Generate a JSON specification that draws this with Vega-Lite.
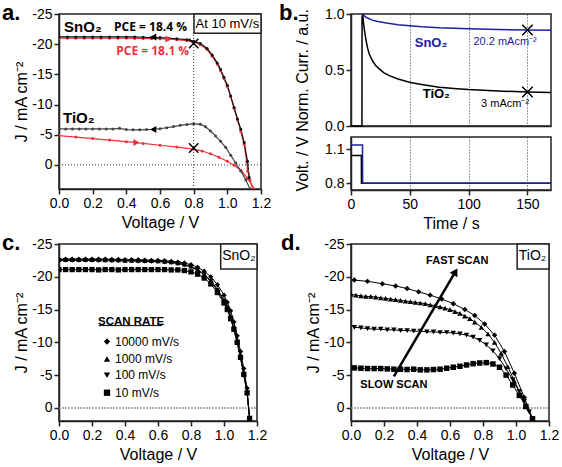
{
"$schema": "https://vega.github.io/schema/vega-lite/v6.json",
"padding": {"left": 1, "top": 1, "right": 0, "bottom": 0},
"background": "white",
"config": {
  "font": "Liberation Sans",
  "view": {"stroke": "#222", "strokeWidth": 1.5},
  "axis": {"domainColor": "#222", "domainWidth": 1.5, "tickColor": "#222", "tickWidth": 1.5, "tickSize": 5, "labelColor": "black", "labelFontSize": 14, "labelFont": "Liberation Sans", "titleFont": "Liberation Sans", "titleFontSize": 16, "titleFontWeight": "normal", "titleColor": "black", "grid": false, "labelPadding": 2, "labelFlush": false, "labelOverlap": false},
  "title": {"font": "Liberation Sans", "fontSize": 22, "fontWeight": "bold", "color": "black", "anchor": "start", "frame": "group", "offset": -4, "baseline": "alphabetic", "dy": 14}
},
"spacing": -1,
"resolve": {"scale": {"shape": "independent", "color": "independent"}, "legend": {"shape": "independent"}},
"vconcat": [
 {"hconcat": [
  {
   "width": 202, "height": 175,
   "title": {"text": "a.", "dx": -57},
   "encoding": {
     "x": {"field": "V", "type": "quantitative", "scale": {"domain": [0, 1.2], "nice": false, "zero": false}, "axis": {"values": [0, 0.2, 0.4, 0.6, 0.8, 1.0, 1.2], "format": ".1f", "title": "Voltage / V"}},
     "y": {"field": "J", "type": "quantitative", "scale": {"domain": [-25, 4], "reverse": true, "nice": false, "zero": false}, "axis": {"values": [-25, -20, -15, -10, -5, 0], "labelExpr": "'' + datum.value", "title": "J / mA cm⁻²", "titlePadding": 2}}
   },
   "layer": [
    {"data": {"values": [{"V": 0.8, "J": -25, "J2": 4}]}, "mark": {"type": "rule", "strokeDash": [1, 2], "color": "#333", "strokeWidth": 1}, "encoding": {"y2": {"field": "J2"}}},
    {"data": {"values": [{"V": 0, "V2": 1.2, "J": 0}]}, "mark": {"type": "rule", "strokeDash": [1, 2], "color": "#333", "strokeWidth": 1}, "encoding": {"x2": {"field": "V2"}}},
    {"data": {"values": [
      {"s": "TiO2 fwd", "V": 0.0, "J": -4.85}, {"s": "TiO2 fwd", "V": 0.1, "J": -4.6}, {"s": "TiO2 fwd", "V": 0.2, "J": -4.35}, {"s": "TiO2 fwd", "V": 0.3, "J": -4.1}, {"s": "TiO2 fwd", "V": 0.4, "J": -3.85}, {"s": "TiO2 fwd", "V": 0.5, "J": -3.55}, {"s": "TiO2 fwd", "V": 0.6, "J": -3.25}, {"s": "TiO2 fwd", "V": 0.7, "J": -2.95}, {"s": "TiO2 fwd", "V": 0.8, "J": -2.6}, {"s": "TiO2 fwd", "V": 0.85, "J": -2.3}, {"s": "TiO2 fwd", "V": 0.9, "J": -1.85}, {"s": "TiO2 fwd", "V": 0.95, "J": -1.25}, {"s": "TiO2 fwd", "V": 1.0, "J": -0.6}, {"s": "TiO2 fwd", "V": 1.04, "J": 0.05}, {"s": "TiO2 fwd", "V": 1.08, "J": 0.9}, {"s": "TiO2 fwd", "V": 1.12, "J": 2.2}, {"s": "TiO2 fwd", "V": 1.16, "J": 4.0},
      {"s": "TiO2 rev", "V": 0.0, "J": -5.95}, {"s": "TiO2 rev", "V": 0.04, "J": -5.95}, {"s": "TiO2 rev", "V": 0.08, "J": -5.95}, {"s": "TiO2 rev", "V": 0.12, "J": -5.95}, {"s": "TiO2 rev", "V": 0.16, "J": -5.95}, {"s": "TiO2 rev", "V": 0.2, "J": -5.95}, {"s": "TiO2 rev", "V": 0.24, "J": -5.95}, {"s": "TiO2 rev", "V": 0.28, "J": -5.95}, {"s": "TiO2 rev", "V": 0.32, "J": -5.95}, {"s": "TiO2 rev", "V": 0.36, "J": -6.05}, {"s": "TiO2 rev", "V": 0.4, "J": -5.85}, {"s": "TiO2 rev", "V": 0.44, "J": -5.8}, {"s": "TiO2 rev", "V": 0.48, "J": -5.8}, {"s": "TiO2 rev", "V": 0.52, "J": -5.85}, {"s": "TiO2 rev", "V": 0.56, "J": -5.9}, {"s": "TiO2 rev", "V": 0.6, "J": -6.0}, {"s": "TiO2 rev", "V": 0.64, "J": -6.15}, {"s": "TiO2 rev", "V": 0.68, "J": -6.35}, {"s": "TiO2 rev", "V": 0.72, "J": -6.55}, {"s": "TiO2 rev", "V": 0.76, "J": -6.7}, {"s": "TiO2 rev", "V": 0.8, "J": -6.8}, {"s": "TiO2 rev", "V": 0.84, "J": -6.75}, {"s": "TiO2 rev", "V": 0.87, "J": -6.3}, {"s": "TiO2 rev", "V": 0.9, "J": -5.6}, {"s": "TiO2 rev", "V": 0.93, "J": -4.8}, {"s": "TiO2 rev", "V": 0.96, "J": -3.9}, {"s": "TiO2 rev", "V": 0.99, "J": -2.9}, {"s": "TiO2 rev", "V": 1.02, "J": -1.6}, {"s": "TiO2 rev", "V": 1.05, "J": -0.3}, {"s": "TiO2 rev", "V": 1.08, "J": 1.0}, {"s": "TiO2 rev", "V": 1.11, "J": 2.5}, {"s": "TiO2 rev", "V": 1.135, "J": 4.0},
      {"s": "SnO2 fwd", "V": 0.0, "J": -21.0}, {"s": "SnO2 fwd", "V": 0.05, "J": -21.0}, {"s": "SnO2 fwd", "V": 0.1, "J": -21.0}, {"s": "SnO2 fwd", "V": 0.15, "J": -21.0}, {"s": "SnO2 fwd", "V": 0.2, "J": -21.0}, {"s": "SnO2 fwd", "V": 0.25, "J": -21.0}, {"s": "SnO2 fwd", "V": 0.3, "J": -21.0}, {"s": "SnO2 fwd", "V": 0.35, "J": -21.0}, {"s": "SnO2 fwd", "V": 0.4, "J": -21.0}, {"s": "SnO2 fwd", "V": 0.45, "J": -20.95}, {"s": "SnO2 fwd", "V": 0.5, "J": -20.95}, {"s": "SnO2 fwd", "V": 0.55, "J": -20.9}, {"s": "SnO2 fwd", "V": 0.6, "J": -20.9}, {"s": "SnO2 fwd", "V": 0.65, "J": -20.85}, {"s": "SnO2 fwd", "V": 0.7, "J": -20.75}, {"s": "SnO2 fwd", "V": 0.76, "J": -20.6}, {"s": "SnO2 fwd", "V": 0.8, "J": -20.35}, {"s": "SnO2 fwd", "V": 0.84, "J": -19.9}, {"s": "SnO2 fwd", "V": 0.88, "J": -19.1}, {"s": "SnO2 fwd", "V": 0.91, "J": -18.0}, {"s": "SnO2 fwd", "V": 0.94, "J": -16.7}, {"s": "SnO2 fwd", "V": 0.96, "J": -15.6}, {"s": "SnO2 fwd", "V": 0.98, "J": -14.3}, {"s": "SnO2 fwd", "V": 1.0, "J": -13.0}, {"s": "SnO2 fwd", "V": 1.02, "J": -11.3}, {"s": "SnO2 fwd", "V": 1.04, "J": -9.4}, {"s": "SnO2 fwd", "V": 1.06, "J": -7.5}, {"s": "SnO2 fwd", "V": 1.08, "J": -5.5}, {"s": "SnO2 fwd", "V": 1.1, "J": -3.4}, {"s": "SnO2 fwd", "V": 1.115, "J": -0.5}, {"s": "SnO2 fwd", "V": 1.12, "J": 1.0}, {"s": "SnO2 fwd", "V": 1.135, "J": 2.5}, {"s": "SnO2 fwd", "V": 1.15, "J": 4.0},
      {"s": "SnO2 rev", "V": 0.0, "J": -21.2}, {"s": "SnO2 rev", "V": 0.05, "J": -21.2}, {"s": "SnO2 rev", "V": 0.1, "J": -21.2}, {"s": "SnO2 rev", "V": 0.15, "J": -21.2}, {"s": "SnO2 rev", "V": 0.2, "J": -21.2}, {"s": "SnO2 rev", "V": 0.25, "J": -21.2}, {"s": "SnO2 rev", "V": 0.3, "J": -21.2}, {"s": "SnO2 rev", "V": 0.35, "J": -21.2}, {"s": "SnO2 rev", "V": 0.4, "J": -21.2}, {"s": "SnO2 rev", "V": 0.45, "J": -21.2}, {"s": "SnO2 rev", "V": 0.5, "J": -21.15}, {"s": "SnO2 rev", "V": 0.55, "J": -21.1}, {"s": "SnO2 rev", "V": 0.6, "J": -21.1}, {"s": "SnO2 rev", "V": 0.65, "J": -21.0}, {"s": "SnO2 rev", "V": 0.7, "J": -20.9}, {"s": "SnO2 rev", "V": 0.76, "J": -20.75}, {"s": "SnO2 rev", "V": 0.8, "J": -20.5}, {"s": "SnO2 rev", "V": 0.84, "J": -20.1}, {"s": "SnO2 rev", "V": 0.88, "J": -19.3}, {"s": "SnO2 rev", "V": 0.91, "J": -18.2}, {"s": "SnO2 rev", "V": 0.94, "J": -16.9}, {"s": "SnO2 rev", "V": 0.96, "J": -15.8}, {"s": "SnO2 rev", "V": 0.98, "J": -14.5}, {"s": "SnO2 rev", "V": 1.0, "J": -13.2}, {"s": "SnO2 rev", "V": 1.02, "J": -11.4}, {"s": "SnO2 rev", "V": 1.04, "J": -9.5}, {"s": "SnO2 rev", "V": 1.06, "J": -7.6}, {"s": "SnO2 rev", "V": 1.08, "J": -5.9}, {"s": "SnO2 rev", "V": 1.1, "J": -3.7}, {"s": "SnO2 rev", "V": 1.12, "J": -0.6}, {"s": "SnO2 rev", "V": 1.13, "J": 2.1}
     ]},
     "mark": {"type": "line", "strokeWidth": 1.2, "clip": true, "point": {"filled": true, "size": 9, "opacity": 1}},
     "encoding": {"color": {"field": "s", "type": "nominal", "scale": {"domain": ["TiO2 fwd", "TiO2 rev", "SnO2 fwd", "SnO2 rev"], "range": ["#ef3038", "#444444", "#ef3038", "#111111"]}, "legend": null}}
    },
    {"data": {"values": [{"V": 0.8, "J": -20.1}, {"V": 0.8, "J": -2.8}]}, "mark": {"type": "point", "shape": "M-1,-1L1,1M-1,1L1,-1", "size": 90, "filled": false, "strokeWidth": 1.5, "color": "black", "opacity": 1}},
    {"data": {"values": [{"V": 0.56, "J": -21.2}, {"V": 0.56, "J": -5.85}]}, "mark": {"type": "point", "shape": "triangle-left", "size": 50, "filled": true, "color": "black", "opacity": 1}},
    {"data": {"values": [{"V": 0.65, "J": -20.85}, {"V": 0.46, "J": -3.7}]}, "mark": {"type": "point", "shape": "triangle-right", "size": 50, "filled": true, "color": "#ef3038", "opacity": 1}},
    {"data": {"values": [{"V": 0.802, "V2": 1.2, "J": -25, "J2": -21.8}]}, "mark": {"type": "rect", "fill": "white", "stroke": "#222", "strokeWidth": 1.5}, "encoding": {"x2": {"field": "V2"}, "y2": {"field": "J2"}}},
    {"data": {"values": [{"V": 1.0, "J": -23.4, "t": "At 10 mV/s"}]}, "mark": {"type": "text", "fontSize": 13, "align": "center", "baseline": "middle", "color": "black"}, "encoding": {"text": {"field": "t"}}},
    {"data": {"values": [{"V": 0.03, "J": -22.9, "t": "SnO₂"}, {"V": 0.024, "J": -7.8, "t": "TiO₂"}]}, "mark": {"type": "text", "fontSize": 15, "fontWeight": "bold", "align": "left", "baseline": "middle", "color": "black"}, "encoding": {"text": {"field": "t"}}},
    {"data": {"values": [{"V": 0.327, "J": -22.9, "t": "PCE = 18.4 %"}]}, "mark": {"type": "text", "font": "Open Sans", "fontSize": 12, "fontWeight": "bold", "align": "left", "baseline": "middle", "color": "black"}, "encoding": {"text": {"field": "t"}}},
    {"data": {"values": [{"V": 0.34, "J": -18.8, "t": "PCE = 18.1 %"}]}, "mark": {"type": "text", "font": "Open Sans", "fontSize": 12, "fontWeight": "bold", "align": "left", "baseline": "middle", "color": "#ef3038"}, "encoding": {"text": {"field": "t"}}}
   ]
  },
  {
   "spacing": 11,
   "bounds": "flush",
   "vconcat": [
    {
     "width": 200, "height": 112,
     "title": {"text": "b.", "dx": -72},
     "encoding": {
       "x": {"field": "t", "type": "quantitative", "scale": {"domain": [0, 170], "nice": false, "zero": false}, "axis": {"values": [0, 50, 100, 150], "labels": false, "ticks": false, "title": null, "grid": true, "gridDash": [1, 2], "gridColor": "#333", "gridWidth": 1}},
       "y": {"field": "v", "type": "quantitative", "scale": {"domain": [0, 1], "nice": false, "zero": false}, "axis": {"values": [0, 0.5, 1], "format": ".1f", "title": "Norm. Curr. / a.u.", "titlePadding": 14}}
     },
     "layer": [
      {"data": {"values": [
        {"i": 0, "t": 0, "v": 0}, {"i": 1, "t": 9.3, "v": 0}, {"i": 2, "t": 9.4, "v": 0.97}, {"i": 3, "t": 9.9, "v": 1.0}, {"i": 4, "t": 10.5, "v": 0.93}, {"i": 5, "t": 11.5, "v": 0.85}, {"i": 6, "t": 12.7, "v": 0.77}, {"i": 7, "t": 14, "v": 0.7}, {"i": 8, "t": 15.6, "v": 0.64}, {"i": 9, "t": 18.4, "v": 0.58}, {"i": 10, "t": 21, "v": 0.54}, {"i": 11, "t": 24, "v": 0.51}, {"i": 12, "t": 28, "v": 0.475}, {"i": 13, "t": 32.6, "v": 0.45}, {"i": 14, "t": 40, "v": 0.42}, {"i": 15, "t": 49.6, "v": 0.39}, {"i": 16, "t": 60, "v": 0.37}, {"i": 17, "t": 75, "v": 0.345}, {"i": 18, "t": 90, "v": 0.333}, {"i": 19, "t": 100, "v": 0.325}, {"i": 20, "t": 125, "v": 0.313}, {"i": 21, "t": 150, "v": 0.303}, {"i": 22, "t": 170, "v": 0.298}
      ]}, "mark": {"type": "line", "color": "black", "strokeWidth": 1.5}, "encoding": {"order": {"field": "i", "type": "quantitative"}}},
      {"data": {"values": [
        {"t": 9.9, "v": 1.0}, {"t": 11, "v": 0.985}, {"t": 13, "v": 0.97}, {"t": 15, "v": 0.96}, {"t": 18, "v": 0.945}, {"t": 22, "v": 0.935}, {"t": 30, "v": 0.92}, {"t": 40, "v": 0.905}, {"t": 50, "v": 0.895}, {"t": 60, "v": 0.886}, {"t": 75, "v": 0.877}, {"t": 100, "v": 0.868}, {"t": 125, "v": 0.862}, {"t": 150, "v": 0.857}, {"t": 170, "v": 0.855}
      ]}, "mark": {"type": "line", "color": "#2020a0", "strokeWidth": 1.5}},
      {"data": {"values": [{"t": 150, "v": 0.857}, {"t": 150, "v": 0.303}]}, "mark": {"type": "point", "shape": "M-1,-1L1,1M-1,1L1,-1", "size": 110, "filled": false, "strokeWidth": 1.5, "color": "black", "opacity": 1}},
      {"data": {"values": [{"t": 68, "v": 0.74, "s": "SnO₂"}]}, "mark": {"type": "text", "fontSize": 13, "fontWeight": "bold", "align": "center", "baseline": "middle", "color": "#2020a0"}, "encoding": {"text": {"field": "s"}}},
      {"data": {"values": [{"t": 131, "v": 0.75, "s": "20.2 mAcm⁻²"}]}, "mark": {"type": "text", "fontSize": 11, "align": "center", "baseline": "middle", "color": "#2020a0"}, "encoding": {"text": {"field": "s"}}},
      {"data": {"values": [{"t": 72.5, "v": 0.29, "s": "TiO₂"}]}, "mark": {"type": "text", "fontSize": 13, "fontWeight": "bold", "align": "center", "baseline": "middle", "color": "black"}, "encoding": {"text": {"field": "s"}}},
      {"data": {"values": [{"t": 131, "v": 0.2, "s": "3 mAcm⁻²"}]}, "mark": {"type": "text", "fontSize": 11, "align": "center", "baseline": "middle", "color": "black"}, "encoding": {"text": {"field": "s"}}}
     ]
    },
    {
     "width": 200, "height": 53,
     "encoding": {
       "x": {"field": "t", "type": "quantitative", "scale": {"domain": [0, 170], "nice": false, "zero": false}, "axis": {"values": [0, 50, 100, 150], "title": "Time / s", "grid": true, "gridDash": [1, 2], "gridColor": "#333", "gridWidth": 1}},
       "y": {"field": "v", "type": "quantitative", "scale": {"domain": [0.74, 1.21], "nice": false, "zero": false}, "axis": {"values": [0.8, 1.1], "format": ".1f", "title": "Volt. / V", "titlePadding": 14}}
     },
     "layer": [
      {"data": {"values": [{"i": 0, "t": 0, "v": 1.045}, {"i": 1, "t": 8.8, "v": 1.045}, {"i": 2, "t": 8.9, "v": 0.8}, {"i": 3, "t": 170, "v": 0.8}]}, "mark": {"type": "line", "color": "black", "strokeWidth": 1.5}, "encoding": {"order": {"field": "i", "type": "quantitative"}}},
      {"data": {"values": [{"i": 0, "t": 0, "v": 1.14}, {"i": 1, "t": 9.8, "v": 1.14}, {"i": 2, "t": 9.9, "v": 0.8}, {"i": 3, "t": 170, "v": 0.8}]}, "mark": {"type": "line", "color": "#2020a0", "strokeWidth": 1.5}, "encoding": {"order": {"field": "i", "type": "quantitative"}}}
     ]
    }
   ]
  }
 ], "spacing": 90, "bounds": "flush"},
 {"hconcat": [
  {
   "width": 198, "height": 177,
   "title": {"text": "c.", "dx": -57},
   "encoding": {
     "x": {"field": "V", "type": "quantitative", "scale": {"domain": [0, 1.2], "nice": false, "zero": false}, "axis": {"values": [0, 0.2, 0.4, 0.6, 0.8, 1.0, 1.2], "format": ".1f", "title": "Voltage / V"}},
     "y": {"field": "J", "type": "quantitative", "scale": {"domain": [-25, 2], "reverse": true, "nice": false, "zero": false}, "axis": {"values": [-25, -20, -15, -10, -5, 0], "labelExpr": "'' + datum.value", "title": "J / mA cm⁻²", "titlePadding": 2}}
   },
   "layer": [
    {"data": {"values": [{"V": 0, "V2": 1.2, "J": 0}]}, "mark": {"type": "rule", "strokeDash": [2, 1], "color": "#999", "strokeWidth": 1.5}, "encoding": {"x2": {"field": "V2"}}},
    {"data": {"name": "c"}, "mark": {"type": "line", "color": "black", "strokeWidth": 1, "clip": true}, "encoding": {"detail": {"field": "r", "type": "nominal"}}},
    {"data": {"name": "c"}, "mark": {"type": "point", "filled": true, "color": "black", "size": 28, "opacity": 1, "clip": true},
     "encoding": {"shape": {"field": "r", "type": "nominal", "scale": {"domain": ["10000 mV/s", "1000 mV/s", "100 mV/s", "10 mV/s"], "range": ["diamond", "triangle-up", "triangle-down", "square"]},
       "legend": {"title": "SCAN RATE", "orient": "none", "legendX": 39, "legendY": 72, "titleFontSize": 11.5, "titleFontWeight": "bold", "titleColor": "black", "titleFont": "Liberation Sans", "labelFont": "Liberation Sans", "labelFontSize": 12, "labelColor": "black", "symbolSize": 40, "symbolFillColor": "black", "symbolStrokeColor": "black", "symbolOffset": 3, "rowPadding": 4.4, "titlePadding": 8, "labelOffset": 2}}}},
    {"data": {"values": [{"V": 0.24, "V2": 0.625, "J": -12.55}]}, "mark": {"type": "rule", "color": "black", "strokeWidth": 1}, "encoding": {"x2": {"field": "V2"}}},
    {"data": {"values": [{"V": 0.98, "V2": 1.2, "J": -25, "J2": -21.2}]}, "mark": {"type": "rect", "fill": "white", "stroke": "#222", "strokeWidth": 1.5}, "encoding": {"x2": {"field": "V2"}, "y2": {"field": "J2"}}},
    {"data": {"values": [{"V": 1.09, "J": -23.1, "t": "SnO₂"}]}, "mark": {"type": "text", "fontSize": 14, "align": "center", "baseline": "middle", "color": "black"}, "encoding": {"text": {"field": "t"}}}
   ]
  },
  {
   "width": 198, "height": 177,
   "title": {"text": "d.", "dx": -70},
   "encoding": {
     "x": {"field": "V", "type": "quantitative", "scale": {"domain": [0, 1.2], "nice": false, "zero": false}, "axis": {"values": [0, 0.2, 0.4, 0.6, 0.8, 1.0, 1.2], "format": ".1f", "title": "Voltage / V"}},
     "y": {"field": "J", "type": "quantitative", "scale": {"domain": [-25, 2], "reverse": true, "nice": false, "zero": false}, "axis": {"values": [-25, -20, -15, -10, -5, 0], "labelExpr": "'' + datum.value", "title": "J / mA cm⁻²", "titlePadding": 2}}
   },
   "layer": [
    {"data": {"values": [{"V": 0, "V2": 1.2, "J": 0}]}, "mark": {"type": "rule", "strokeDash": [2, 1], "color": "#999", "strokeWidth": 1.5}, "encoding": {"x2": {"field": "V2"}}},
    {"data": {"name": "d"}, "mark": {"type": "line", "color": "black", "strokeWidth": 1, "clip": true}, "encoding": {"detail": {"field": "r", "type": "nominal"}}},
    {"data": {"name": "d"}, "mark": {"type": "point", "filled": true, "color": "black", "size": 30, "opacity": 1, "clip": true},
     "encoding": {"shape": {"field": "r", "type": "nominal", "scale": {"domain": ["10000 mV/s", "1000 mV/s", "100 mV/s", "10 mV/s"], "range": ["diamond", "triangle-up", "triangle-down", "square"]}, "legend": null}}},
    {"data": {"values": [{"V": 0.26, "J": -4.8, "V2": 0.633, "J2": -20.77}]}, "mark": {"type": "rule", "color": "black", "strokeWidth": 2.5}, "encoding": {"x2": {"field": "V2"}, "y2": {"field": "J2"}}},
    {"data": {"values": [{"V": 0.633, "J": -20.77}]}, "mark": {"type": "point", "shape": "triangle-up", "size": 80, "filled": true, "color": "black", "opacity": 1, "angle": 30}},
    {"data": {"values": [{"V": 0.644, "J": -22.4, "t": "FAST SCAN"}, {"V": 0.26, "J": -3.5, "t": "SLOW SCAN"}]}, "mark": {"type": "text", "fontSize": 11, "fontWeight": "bold", "align": "center", "baseline": "middle", "color": "black"}, "encoding": {"text": {"field": "t"}}},
    {"data": {"values": [{"V": 1.007, "V2": 1.2, "J": -25, "J2": -21.2}]}, "mark": {"type": "rect", "fill": "white", "stroke": "#222", "strokeWidth": 1.5}, "encoding": {"x2": {"field": "V2"}, "y2": {"field": "J2"}}},
    {"data": {"values": [{"V": 1.1, "J": -23.1, "t": "TiO₂"}]}, "mark": {"type": "text", "fontSize": 14, "align": "center", "baseline": "middle", "color": "black"}, "encoding": {"text": {"field": "t"}}}
   ]
  }
 ], "spacing": 94, "bounds": "flush", "resolve": {"scale": {"shape": "independent"}, "legend": {"shape": "independent"}}}
],
"datasets": {
 "c": [
  {"r": "10000 mV/s", "V": 0.0, "J": -22.7}, {"r": "10000 mV/s", "V": 0.04, "J": -22.7}, {"r": "10000 mV/s", "V": 0.08, "J": -22.7}, {"r": "10000 mV/s", "V": 0.12, "J": -22.7}, {"r": "10000 mV/s", "V": 0.16, "J": -22.7}, {"r": "10000 mV/s", "V": 0.2, "J": -22.7}, {"r": "10000 mV/s", "V": 0.24, "J": -22.7}, {"r": "10000 mV/s", "V": 0.28, "J": -22.7}, {"r": "10000 mV/s", "V": 0.32, "J": -22.65}, {"r": "10000 mV/s", "V": 0.36, "J": -22.65}, {"r": "10000 mV/s", "V": 0.4, "J": -22.6}, {"r": "10000 mV/s", "V": 0.44, "J": -22.6}, {"r": "10000 mV/s", "V": 0.48, "J": -22.6}, {"r": "10000 mV/s", "V": 0.52, "J": -22.55}, {"r": "10000 mV/s", "V": 0.56, "J": -22.5}, {"r": "10000 mV/s", "V": 0.6, "J": -22.5}, {"r": "10000 mV/s", "V": 0.64, "J": -22.45}, {"r": "10000 mV/s", "V": 0.68, "J": -22.35}, {"r": "10000 mV/s", "V": 0.72, "J": -22.25}, {"r": "10000 mV/s", "V": 0.76, "J": -22.1}, {"r": "10000 mV/s", "V": 0.8, "J": -21.85}, {"r": "10000 mV/s", "V": 0.84, "J": -21.45}, {"r": "10000 mV/s", "V": 0.88, "J": -20.85}, {"r": "10000 mV/s", "V": 0.92, "J": -20.0}, {"r": "10000 mV/s", "V": 0.96, "J": -18.8}, {"r": "10000 mV/s", "V": 1.0, "J": -17.2}, {"r": "10000 mV/s", "V": 1.02, "J": -16.1}, {"r": "10000 mV/s", "V": 1.04, "J": -14.8}, {"r": "10000 mV/s", "V": 1.06, "J": -13.1}, {"r": "10000 mV/s", "V": 1.08, "J": -11.0}, {"r": "10000 mV/s", "V": 1.1, "J": -8.6}, {"r": "10000 mV/s", "V": 1.12, "J": -6.0}, {"r": "10000 mV/s", "V": 1.14, "J": -3.0}, {"r": "10000 mV/s", "V": 1.155, "J": 1.6},
  {"r": "1000 mV/s", "V": 0.0, "J": -22.6}, {"r": "1000 mV/s", "V": 0.04, "J": -22.6}, {"r": "1000 mV/s", "V": 0.08, "J": -22.6}, {"r": "1000 mV/s", "V": 0.12, "J": -22.6}, {"r": "1000 mV/s", "V": 0.16, "J": -22.6}, {"r": "1000 mV/s", "V": 0.2, "J": -22.6}, {"r": "1000 mV/s", "V": 0.24, "J": -22.6}, {"r": "1000 mV/s", "V": 0.28, "J": -22.55}, {"r": "1000 mV/s", "V": 0.32, "J": -22.55}, {"r": "1000 mV/s", "V": 0.36, "J": -22.55}, {"r": "1000 mV/s", "V": 0.4, "J": -22.5}, {"r": "1000 mV/s", "V": 0.44, "J": -22.5}, {"r": "1000 mV/s", "V": 0.48, "J": -22.5}, {"r": "1000 mV/s", "V": 0.52, "J": -22.45}, {"r": "1000 mV/s", "V": 0.56, "J": -22.45}, {"r": "1000 mV/s", "V": 0.6, "J": -22.4}, {"r": "1000 mV/s", "V": 0.64, "J": -22.35}, {"r": "1000 mV/s", "V": 0.68, "J": -22.25}, {"r": "1000 mV/s", "V": 0.72, "J": -22.1}, {"r": "1000 mV/s", "V": 0.76, "J": -21.9}, {"r": "1000 mV/s", "V": 0.8, "J": -21.6}, {"r": "1000 mV/s", "V": 0.84, "J": -21.1}, {"r": "1000 mV/s", "V": 0.88, "J": -20.4}, {"r": "1000 mV/s", "V": 0.92, "J": -19.4}, {"r": "1000 mV/s", "V": 0.96, "J": -18.1}, {"r": "1000 mV/s", "V": 1.0, "J": -16.5}, {"r": "1000 mV/s", "V": 1.02, "J": -15.4}, {"r": "1000 mV/s", "V": 1.04, "J": -14.0}, {"r": "1000 mV/s", "V": 1.06, "J": -12.3}, {"r": "1000 mV/s", "V": 1.08, "J": -10.3}, {"r": "1000 mV/s", "V": 1.1, "J": -7.9}, {"r": "1000 mV/s", "V": 1.12, "J": -5.3}, {"r": "1000 mV/s", "V": 1.14, "J": -2.4}, {"r": "1000 mV/s", "V": 1.155, "J": 1.6},
  {"r": "100 mV/s", "V": 0.0, "J": -22.5}, {"r": "100 mV/s", "V": 0.04, "J": -22.5}, {"r": "100 mV/s", "V": 0.08, "J": -22.5}, {"r": "100 mV/s", "V": 0.12, "J": -22.5}, {"r": "100 mV/s", "V": 0.16, "J": -22.5}, {"r": "100 mV/s", "V": 0.2, "J": -22.5}, {"r": "100 mV/s", "V": 0.24, "J": -22.45}, {"r": "100 mV/s", "V": 0.28, "J": -22.45}, {"r": "100 mV/s", "V": 0.32, "J": -22.45}, {"r": "100 mV/s", "V": 0.36, "J": -22.4}, {"r": "100 mV/s", "V": 0.4, "J": -22.4}, {"r": "100 mV/s", "V": 0.44, "J": -22.4}, {"r": "100 mV/s", "V": 0.48, "J": -22.35}, {"r": "100 mV/s", "V": 0.52, "J": -22.35}, {"r": "100 mV/s", "V": 0.56, "J": -22.3}, {"r": "100 mV/s", "V": 0.6, "J": -22.3}, {"r": "100 mV/s", "V": 0.64, "J": -22.25}, {"r": "100 mV/s", "V": 0.68, "J": -22.15}, {"r": "100 mV/s", "V": 0.72, "J": -22.0}, {"r": "100 mV/s", "V": 0.76, "J": -21.8}, {"r": "100 mV/s", "V": 0.8, "J": -21.5}, {"r": "100 mV/s", "V": 0.84, "J": -21.0}, {"r": "100 mV/s", "V": 0.88, "J": -20.3}, {"r": "100 mV/s", "V": 0.92, "J": -19.3}, {"r": "100 mV/s", "V": 0.96, "J": -17.9}, {"r": "100 mV/s", "V": 1.0, "J": -16.2}, {"r": "100 mV/s", "V": 1.02, "J": -15.1}, {"r": "100 mV/s", "V": 1.04, "J": -13.7}, {"r": "100 mV/s", "V": 1.06, "J": -12.0}, {"r": "100 mV/s", "V": 1.08, "J": -10.0}, {"r": "100 mV/s", "V": 1.1, "J": -7.6}, {"r": "100 mV/s", "V": 1.12, "J": -5.0}, {"r": "100 mV/s", "V": 1.14, "J": -2.2}, {"r": "100 mV/s", "V": 1.155, "J": 1.6},
  {"r": "10 mV/s", "V": 0.0, "J": -21.1}, {"r": "10 mV/s", "V": 0.04, "J": -21.1}, {"r": "10 mV/s", "V": 0.08, "J": -21.1}, {"r": "10 mV/s", "V": 0.12, "J": -21.1}, {"r": "10 mV/s", "V": 0.16, "J": -21.1}, {"r": "10 mV/s", "V": 0.2, "J": -21.1}, {"r": "10 mV/s", "V": 0.24, "J": -21.05}, {"r": "10 mV/s", "V": 0.28, "J": -21.1}, {"r": "10 mV/s", "V": 0.32, "J": -21.1}, {"r": "10 mV/s", "V": 0.36, "J": -21.05}, {"r": "10 mV/s", "V": 0.4, "J": -21.1}, {"r": "10 mV/s", "V": 0.44, "J": -21.1}, {"r": "10 mV/s", "V": 0.48, "J": -21.1}, {"r": "10 mV/s", "V": 0.52, "J": -21.1}, {"r": "10 mV/s", "V": 0.56, "J": -21.1}, {"r": "10 mV/s", "V": 0.6, "J": -21.1}, {"r": "10 mV/s", "V": 0.64, "J": -21.1}, {"r": "10 mV/s", "V": 0.68, "J": -21.05}, {"r": "10 mV/s", "V": 0.72, "J": -21.05}, {"r": "10 mV/s", "V": 0.76, "J": -20.95}, {"r": "10 mV/s", "V": 0.8, "J": -20.75}, {"r": "10 mV/s", "V": 0.84, "J": -20.4}, {"r": "10 mV/s", "V": 0.88, "J": -19.8}, {"r": "10 mV/s", "V": 0.92, "J": -18.9}, {"r": "10 mV/s", "V": 0.96, "J": -17.6}, {"r": "10 mV/s", "V": 1.0, "J": -16.0}, {"r": "10 mV/s", "V": 1.02, "J": -15.0}, {"r": "10 mV/s", "V": 1.04, "J": -13.6}, {"r": "10 mV/s", "V": 1.06, "J": -12.0}, {"r": "10 mV/s", "V": 1.08, "J": -10.0}, {"r": "10 mV/s", "V": 1.1, "J": -7.7}, {"r": "10 mV/s", "V": 1.12, "J": -5.1}, {"r": "10 mV/s", "V": 1.14, "J": -2.3}, {"r": "10 mV/s", "V": 1.155, "J": 1.6}
 ],
 "d": [
  {"r": "10000 mV/s", "V": 0.02, "J": -19.5}, {"r": "10000 mV/s", "V": 0.1, "J": -19.3}, {"r": "10000 mV/s", "V": 0.19, "J": -18.95}, {"r": "10000 mV/s", "V": 0.27, "J": -18.6}, {"r": "10000 mV/s", "V": 0.34, "J": -18.2}, {"r": "10000 mV/s", "V": 0.41, "J": -17.7}, {"r": "10000 mV/s", "V": 0.48, "J": -17.2}, {"r": "10000 mV/s", "V": 0.55, "J": -16.6}, {"r": "10000 mV/s", "V": 0.62, "J": -15.9}, {"r": "10000 mV/s", "V": 0.69, "J": -15.0}, {"r": "10000 mV/s", "V": 0.75, "J": -14.1}, {"r": "10000 mV/s", "V": 0.81, "J": -12.8}, {"r": "10000 mV/s", "V": 0.87, "J": -11.1}, {"r": "10000 mV/s", "V": 0.93, "J": -8.6}, {"r": "10000 mV/s", "V": 0.99, "J": -5.3}, {"r": "10000 mV/s", "V": 1.05, "J": -1.6}, {"r": "10000 mV/s", "V": 1.1, "J": 1.6},
  {"r": "1000 mV/s", "V": 0.0, "J": -17.3}, {"r": "1000 mV/s", "V": 0.03, "J": -17.2}, {"r": "1000 mV/s", "V": 0.06, "J": -17.1}, {"r": "1000 mV/s", "V": 0.09, "J": -17.0}, {"r": "1000 mV/s", "V": 0.12, "J": -17.0}, {"r": "1000 mV/s", "V": 0.15, "J": -16.9}, {"r": "1000 mV/s", "V": 0.18, "J": -16.8}, {"r": "1000 mV/s", "V": 0.21, "J": -16.7}, {"r": "1000 mV/s", "V": 0.24, "J": -16.6}, {"r": "1000 mV/s", "V": 0.27, "J": -16.5}, {"r": "1000 mV/s", "V": 0.3, "J": -16.4}, {"r": "1000 mV/s", "V": 0.33, "J": -16.3}, {"r": "1000 mV/s", "V": 0.36, "J": -16.2}, {"r": "1000 mV/s", "V": 0.39, "J": -16.1}, {"r": "1000 mV/s", "V": 0.42, "J": -16.0}, {"r": "1000 mV/s", "V": 0.45, "J": -15.9}, {"r": "1000 mV/s", "V": 0.48, "J": -15.7}, {"r": "1000 mV/s", "V": 0.51, "J": -15.6}, {"r": "1000 mV/s", "V": 0.54, "J": -15.4}, {"r": "1000 mV/s", "V": 0.57, "J": -15.2}, {"r": "1000 mV/s", "V": 0.6, "J": -15.0}, {"r": "1000 mV/s", "V": 0.63, "J": -14.7}, {"r": "1000 mV/s", "V": 0.66, "J": -14.4}, {"r": "1000 mV/s", "V": 0.69, "J": -14.0}, {"r": "1000 mV/s", "V": 0.72, "J": -13.6}, {"r": "1000 mV/s", "V": 0.75, "J": -13.1}, {"r": "1000 mV/s", "V": 0.79, "J": -12.3}, {"r": "1000 mV/s", "V": 0.83, "J": -11.3}, {"r": "1000 mV/s", "V": 0.87, "J": -10.0}, {"r": "1000 mV/s", "V": 0.91, "J": -8.3}, {"r": "1000 mV/s", "V": 0.95, "J": -6.3}, {"r": "1000 mV/s", "V": 0.99, "J": -4.1}, {"r": "1000 mV/s", "V": 1.03, "J": -2.0}, {"r": "1000 mV/s", "V": 1.06, "J": -0.3}, {"r": "1000 mV/s", "V": 1.1, "J": 1.6},
  {"r": "100 mV/s", "V": 0.02, "J": -12.3}, {"r": "100 mV/s", "V": 0.06, "J": -12.2}, {"r": "100 mV/s", "V": 0.1, "J": -12.1}, {"r": "100 mV/s", "V": 0.14, "J": -12.0}, {"r": "100 mV/s", "V": 0.18, "J": -12.0}, {"r": "100 mV/s", "V": 0.22, "J": -11.9}, {"r": "100 mV/s", "V": 0.26, "J": -11.9}, {"r": "100 mV/s", "V": 0.3, "J": -11.8}, {"r": "100 mV/s", "V": 0.34, "J": -11.8}, {"r": "100 mV/s", "V": 0.38, "J": -11.7}, {"r": "100 mV/s", "V": 0.42, "J": -11.7}, {"r": "100 mV/s", "V": 0.46, "J": -11.6}, {"r": "100 mV/s", "V": 0.5, "J": -11.6}, {"r": "100 mV/s", "V": 0.54, "J": -11.5}, {"r": "100 mV/s", "V": 0.58, "J": -11.5}, {"r": "100 mV/s", "V": 0.62, "J": -11.4}, {"r": "100 mV/s", "V": 0.66, "J": -11.3}, {"r": "100 mV/s", "V": 0.7, "J": -11.1}, {"r": "100 mV/s", "V": 0.74, "J": -10.8}, {"r": "100 mV/s", "V": 0.78, "J": -10.3}, {"r": "100 mV/s", "V": 0.82, "J": -9.6}, {"r": "100 mV/s", "V": 0.86, "J": -8.7}, {"r": "100 mV/s", "V": 0.9, "J": -7.5}, {"r": "100 mV/s", "V": 0.94, "J": -6.0}, {"r": "100 mV/s", "V": 0.98, "J": -4.3}, {"r": "100 mV/s", "V": 1.02, "J": -2.5}, {"r": "100 mV/s", "V": 1.05, "J": -1.0}, {"r": "100 mV/s", "V": 1.08, "J": 0.6}, {"r": "100 mV/s", "V": 1.1, "J": 1.6},
  {"r": "10 mV/s", "V": 0.02, "J": -6.1}, {"r": "10 mV/s", "V": 0.06, "J": -6.05}, {"r": "10 mV/s", "V": 0.1, "J": -6.0}, {"r": "10 mV/s", "V": 0.14, "J": -6.0}, {"r": "10 mV/s", "V": 0.18, "J": -6.0}, {"r": "10 mV/s", "V": 0.22, "J": -5.95}, {"r": "10 mV/s", "V": 0.26, "J": -5.9}, {"r": "10 mV/s", "V": 0.3, "J": -5.9}, {"r": "10 mV/s", "V": 0.34, "J": -5.85}, {"r": "10 mV/s", "V": 0.38, "J": -5.9}, {"r": "10 mV/s", "V": 0.42, "J": -5.8}, {"r": "10 mV/s", "V": 0.46, "J": -5.8}, {"r": "10 mV/s", "V": 0.5, "J": -5.85}, {"r": "10 mV/s", "V": 0.54, "J": -5.9}, {"r": "10 mV/s", "V": 0.58, "J": -6.05}, {"r": "10 mV/s", "V": 0.62, "J": -6.2}, {"r": "10 mV/s", "V": 0.66, "J": -6.35}, {"r": "10 mV/s", "V": 0.7, "J": -6.55}, {"r": "10 mV/s", "V": 0.74, "J": -6.75}, {"r": "10 mV/s", "V": 0.78, "J": -6.85}, {"r": "10 mV/s", "V": 0.82, "J": -6.9}, {"r": "10 mV/s", "V": 0.86, "J": -6.7}, {"r": "10 mV/s", "V": 0.9, "J": -6.2}, {"r": "10 mV/s", "V": 0.94, "J": -5.0}, {"r": "10 mV/s", "V": 0.98, "J": -3.5}, {"r": "10 mV/s", "V": 1.02, "J": -1.9}, {"r": "10 mV/s", "V": 1.06, "J": -0.2}, {"r": "10 mV/s", "V": 1.1, "J": 1.7}
 ]
}
}
